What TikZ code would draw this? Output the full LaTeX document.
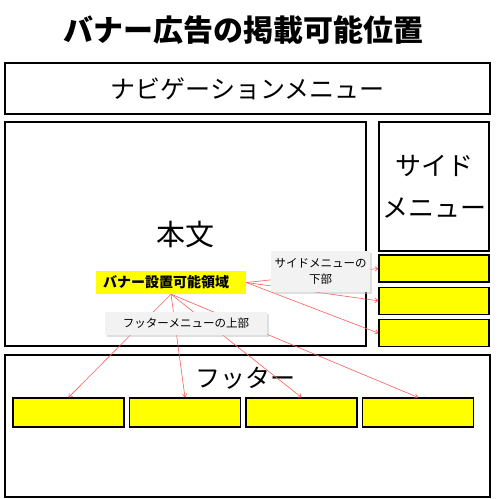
\documentclass[tikz,border=0pt]{standalone}
\usepackage{fontspec}
\setmainfont{Noto Sans CJK JP}
\usetikzlibrary{positioning, arrows.meta, shadows}
\definecolor{bannerfill}{HTML}{FFFF00}
\definecolor{notefill}{HTML}{F2F2F2}
\definecolor{arrowred}{HTML}{FF5B5B}

\begin{document}
\begin{tikzpicture}[x=1pt, y=-1pt,
    area/.style={draw, line width=1.4pt, inner sep=0pt, font=\fontsize{25}{30}\selectfont},
    banner/.style={draw, line width=1.2pt, fill=bannerfill, minimum width=110pt, inner sep=0pt},
    note/.style={fill=notefill, drop shadow={shadow xshift=1.5pt, shadow yshift=-1.5pt, fill=black!25}, inner sep=0pt, align=center, font=\fontsize{11.5}{16.5}\selectfont},
    link/.style={-{Straight Barb[length=3pt, width=4.5pt]}, draw=arrowred, line width=0.6pt}]
    \useasboundingbox (0,0) rectangle (500,498);

    \node[font=\bfseries\fontsize{30}{36}\selectfont] (title) at (243,30) {バナー広告の掲載可能位置};

    % page areas
    \node[area, minimum width=485pt, minimum height=51pt] (nav) at (247.5,88.5) {ナビゲーションメニュー};
    \node[area, minimum width=361pt, minimum height=224pt, font=\fontsize{29}{34}\selectfont] (body) at (185.5,234) {本文};
    \node[area, minimum width=110pt, minimum height=129pt, align=center, font=\fontsize{26}{42}\selectfont] (side) at (434,186.5) {サイド\\メニュー};
    \node[area, minimum width=485pt, minimum height=142pt] (footer) at (247.5,426) {};
    \node[font=\fontsize{25}{30}\selectfont] (footlabel) at (245,378) {フッター};

    % banner slots
    \foreach \i in {1,2,3}
        \node[banner, minimum height=27pt] (sidebn\i) at (434,{268.5+32.3*(\i-1)}) {};
    \foreach \i in {1,...,4}
        \node[banner, minimum width=111pt, minimum height=29pt] (footbn\i) at ({68.5+116.5*(\i-1)},412.5) {};

    \node[fill=bannerfill, text width=136pt, inner xsep=7pt, minimum height=23pt, align=left, font=\bfseries\fontsize{14}{16}\selectfont] (spot) at (171,282.5) {バナー設置可能領域};

    \foreach \i in {1,2,3}
        \draw[link] (spot.east) -- (sidebn\i.west);
    \foreach \i in {1,...,4}
        \draw[link] (spot.south) -- (footbn\i.north);

    \node[note, minimum width=99pt, minimum height=41pt] (sidenote) at (320.5,271.5) {サイドメニューの\\下部};
    \node[note, minimum width=162pt, minimum height=23pt] (footnote) at (186,323.5) {フッターメニューの上部};
\end{tikzpicture}
\end{document}
